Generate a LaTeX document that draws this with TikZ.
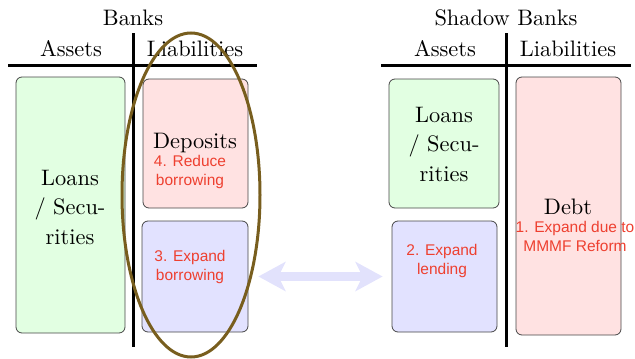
\documentclass[tikz,border=0pt]{standalone}
\usepackage{fontspec}
\setmainfont{lmroman10-regular.otf}
\newfontfamily\redfont{Liberation Sans}
\usetikzlibrary{arrows.meta,shapes.geometric}
\definecolor{boxgreen}{RGB}{226,255,226}
\definecolor{boxpink}{RGB}{255,226,226}
\definecolor{boxblue}{RGB}{226,226,255}
\definecolor{boxedge}{RGB}{70,70,70}
\definecolor{notered}{RGB}{238,64,48}
\definecolor{arrowblue}{RGB}{226,226,252}
\definecolor{ringcol}{RGB}{120,94,30}
\tikzset{
  acct/.style={draw=boxedge, line width=0.8pt, rounded corners=6pt, inner sep=0pt},
  big/.style={font=\fontsize{22.4}{29.5}\selectfont, align=center, inner sep=0pt},
  note/.style={font=\redfont\fontsize{15.5}{19}\selectfont, text=notered, align=center, inner sep=0pt},
  tline/.style={line width=3pt, black},
  fatarrow/.style={line width=9pt, arrowblue, {Stealth[length=27pt,width=29pt,inset=7pt]}-{Stealth[length=27pt,width=29pt,inset=7pt]}},
  ring/.style={draw=ringcol, line width=3pt, ellipse, inner sep=0pt}
}
\begin{document}
\begin{tikzpicture}[x=1pt,y=-1pt]
\useasboundingbox (0,0) rectangle (635,359);
% headers
\node[big] (bt) at (133,18) {Banks};
\node[big] (ba) at (71,49) {Assets};
\node[big] (bl) at (195,49) {Liabilities};
\node[big] (st) at (506,18) {Shadow Banks};
\node[big] (sa) at (445,49) {Assets};
\node[big] (sl) at (568,49) {Liabilities};
% T-account lines
\coordinate (bh1) at (8,65); \coordinate (bh2) at (257,65);
\coordinate (bv1) at (133,33); \coordinate (bv2) at (133,347);
\coordinate (sh1) at (381,65); \coordinate (sh2) at (631,65);
\coordinate (sv1) at (506,33); \coordinate (sv2) at (506,347);
\draw[tline] (bh1) -- (bh2);
\draw[tline] (bv1) -- (bv2);
\draw[tline] (sh1) -- (sh2);
\draw[tline] (sv1) -- (sv2);
% boxes
\node[acct, fill=boxgreen, minimum width=109pt, minimum height=256pt] (bL) at (70.5,205) {};
\node[acct, fill=boxpink, minimum width=105pt, minimum height=129pt] (bD) at (195.5,143.5) {};
\node[acct, fill=boxblue, minimum width=106pt, minimum height=111pt] (bB) at (195,276.5) {};
\node[acct, fill=boxgreen, minimum width=110pt, minimum height=129pt] (sL) at (444,143.5) {};
\node[acct, fill=boxblue, minimum width=105pt, minimum height=111pt] (sB) at (444.5,276.5) {};
\node[acct, fill=boxpink, minimum width=105pt, minimum height=258pt] (sD) at (568.5,206) {};
% box texts
\node[big] (tbL) at (70,207) {Loans\\/ Secu-\\rities};
\node[big] (tbD) at (195,143) {Deposits};
\node[note] (nbD) at (190,172) {4. Reduce\\borrowing};
\node[note] (nbB) at (190,267) {3. Expand\\borrowing};
\node[big] (tsL) at (444,144) {Loans\\/ Secu-\\rities};
\node[note] (nsB) at (442,261) {2. Expand\\lending};
\node[big] (tsD) at (568,207) {Debt};
\node[note] (nsD) at (575,236) {1. Expand due to\\MMMF Reform};
% arrow
\draw[fatarrow, shorten <=10pt, shorten >=9pt] (bB.east) -- (sB.west);
% ellipse
\node[ring, minimum width=138pt, minimum height=324pt] (ell) at (191,195) {};
\end{tikzpicture}
\end{document}
